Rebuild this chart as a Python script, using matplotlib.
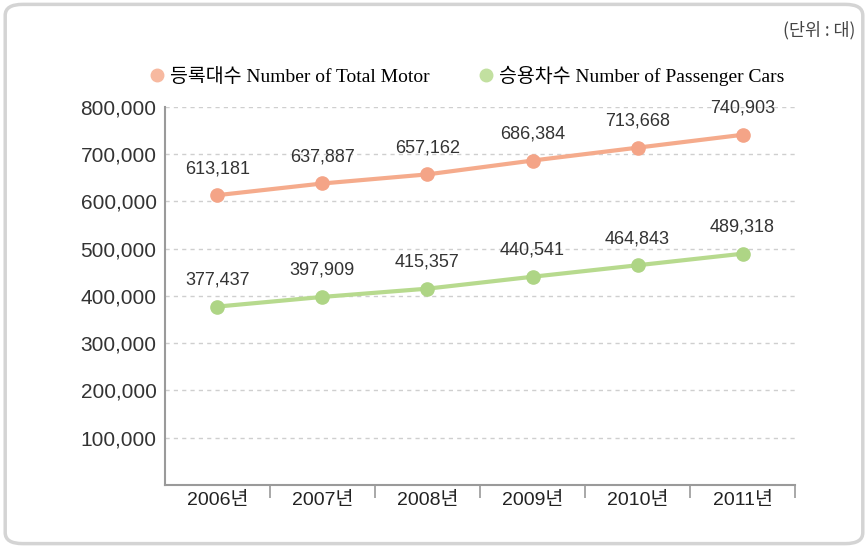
import matplotlib.pyplot as plt
from matplotlib.patches import FancyBboxPatch
from matplotlib.lines import Line2D

# 데이터
years = ['2006년', '2007년', '2008년', '2009년', '2010년', '2011년']
total_motor = [613181, 637887, 657162, 686384, 713668, 740903]
passenger_cars = [377437, 397909, 415357, 440541, 464843, 489318]
y_ticks = [100000, 200000, 300000, 400000, 500000, 600000, 700000, 800000]

orange = '#F5AB8C'
green = '#B7DA8E'
sans = ['Liberation Sans', 'Noto Sans CJK KR']
serif = ['Liberation Serif', 'Noto Sans CJK KR']

fig = plt.figure(figsize=(8.68, 5.48), dpi=100)
fig.patches.append(FancyBboxPatch((0.006, 0.008), 0.988, 0.984,
                                  boxstyle='round,pad=0,rounding_size=0.02',
                                  transform=fig.transFigure, fill=False,
                                  edgecolor='#d4d4d4', linewidth=2.5))

ax = fig.add_axes([0.190, 0.115, 0.726, 0.690])
x = list(range(len(years)))

ax.plot(x, total_motor, color=orange, lw=3, marker='o', ms=9.5,
        markerfacecolor='#F4A487', markeredgecolor='#F4A487', zorder=3, clip_on=False)
ax.plot(x, passenger_cars, color=green, lw=3, marker='o', ms=9.5,
        markerfacecolor='#AED585', markeredgecolor='#AED585', zorder=3, clip_on=False)

for xi, v in zip(x, total_motor):
    ax.annotate(f'{v:,}', (xi, v), xytext=(0, 13), textcoords='offset points',
                ha='center', va='bottom', fontsize=13, family=sans, color='#333333')
for xi, v in zip(x, passenger_cars):
    ax.annotate(f'{v:,}', (xi, v), xytext=(0, 13), textcoords='offset points',
                ha='center', va='bottom', fontsize=13, family=sans, color='#333333')

ax.set_xlim(-0.5, 5.5)
ax.set_ylim(0, 800000)
ax.set_yticks(y_ticks)
ax.set_yticklabels([f'{t:,}' for t in y_ticks], fontsize=15, family=sans, color='#333333')
ax.set_xticks(x)
ax.set_xticklabels(years, fontsize=14, family=sans, color='#222222')
ax.set_xticks([i + 0.5 for i in x], minor=True)
ax.tick_params(axis='y', length=0, pad=6)
ax.tick_params(axis='x', which='major', length=0, pad=5)
ax.tick_params(axis='x', which='minor', length=9, width=1.2, color='#9a9a9a', direction='out')

ax.grid(axis='y', color='#cfcfcf', linestyle=(0, (3, 3)), linewidth=1)
ax.set_axisbelow(True)
for s in ['top', 'right']:
    ax.spines[s].set_visible(False)
for s in ['left', 'bottom']:
    ax.spines[s].set_color('#9a9a9a')
    ax.spines[s].set_linewidth(1.5)

handles = [Line2D([], [], ls='none', marker='o', ms=9, color='#F7B9A0'),
           Line2D([], [], ls='none', marker='o', ms=9, color='#C2E0A0')]
fig.legend(handles, ['등록대수 Number of Total Motor', '승용차수 Number of Passenger Cars'],
           loc='center left', bbox_to_anchor=(0.150, 0.862), ncol=2, frameon=False,
           handletextpad=0.15, columnspacing=2.4, handlelength=1.0,
           prop={'family': serif, 'size': 14})

fig.text(0.985, 0.945, '(단위 : 대)', ha='right', va='center', fontsize=12.5,
         family=['Noto Sans CJK KR'], color='#444444')

fig.savefig('out.png', dpi=100, facecolor='white')
